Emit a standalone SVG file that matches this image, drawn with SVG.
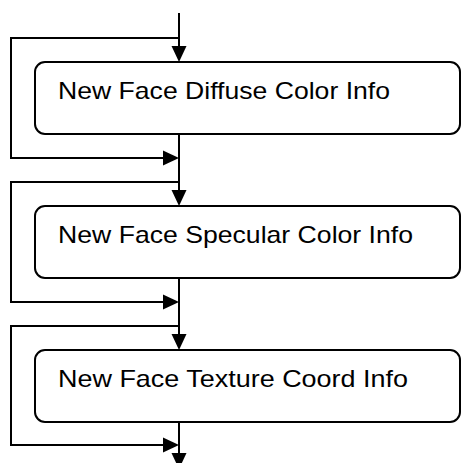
<svg xmlns="http://www.w3.org/2000/svg" width="462" height="463" viewBox="0 0 462 463">
<defs>
<style>
.c{fill:none;stroke:#000;stroke-width:2}
.b{fill:#fff;stroke:#000;stroke-width:2}
.t{font-family:"Liberation Sans",Arial,sans-serif;font-size:24px;fill:#000}
.h{fill:#000;stroke:none}
</style>
</defs>
<rect width="462" height="463" fill="#fff"/>
<g id="connectors">
<path class="c" d="M179 13V47"/>
<path class="c" d="M179 38H11V158H164"/>
<path class="c" d="M179 134V191"/>
<path class="c" d="M179 182H11V302H164"/>
<path class="c" d="M179 278V335"/>
<path class="c" d="M179 326H11V445H164"/>
<path class="c" d="M179 422V454"/>
<polygon class="h" points="171.5,46 186.5,46 179,62"/>
<polygon class="h" points="163,150.5 163,165.5 179,158"/>
<polygon class="h" points="171.5,190 186.5,190 179,206"/>
<polygon class="h" points="163,294.5 163,309.5 179,302"/>
<polygon class="h" points="171.5,334 186.5,334 179,350"/>
<polygon class="h" points="163,437.5 163,452.5 179,445"/>
<polygon class="h" points="171.5,453 186.5,453 179,469"/>
</g>
<g id="node1">
<rect class="b" x="35" y="62" width="425" height="72" rx="10"/>
<text class="t" x="58" y="99" textLength="332" lengthAdjust="spacingAndGlyphs">New Face Diffuse Color Info</text>
</g>
<g id="node2">
<rect class="b" x="35" y="206" width="425" height="72" rx="10"/>
<text class="t" x="58" y="243" textLength="355" lengthAdjust="spacingAndGlyphs">New Face Specular Color Info</text>
</g>
<g id="node3">
<rect class="b" x="35" y="350" width="425" height="72" rx="10"/>
<text class="t" x="58" y="387" textLength="350" lengthAdjust="spacingAndGlyphs">New Face Texture Coord Info</text>
</g>
</svg>
